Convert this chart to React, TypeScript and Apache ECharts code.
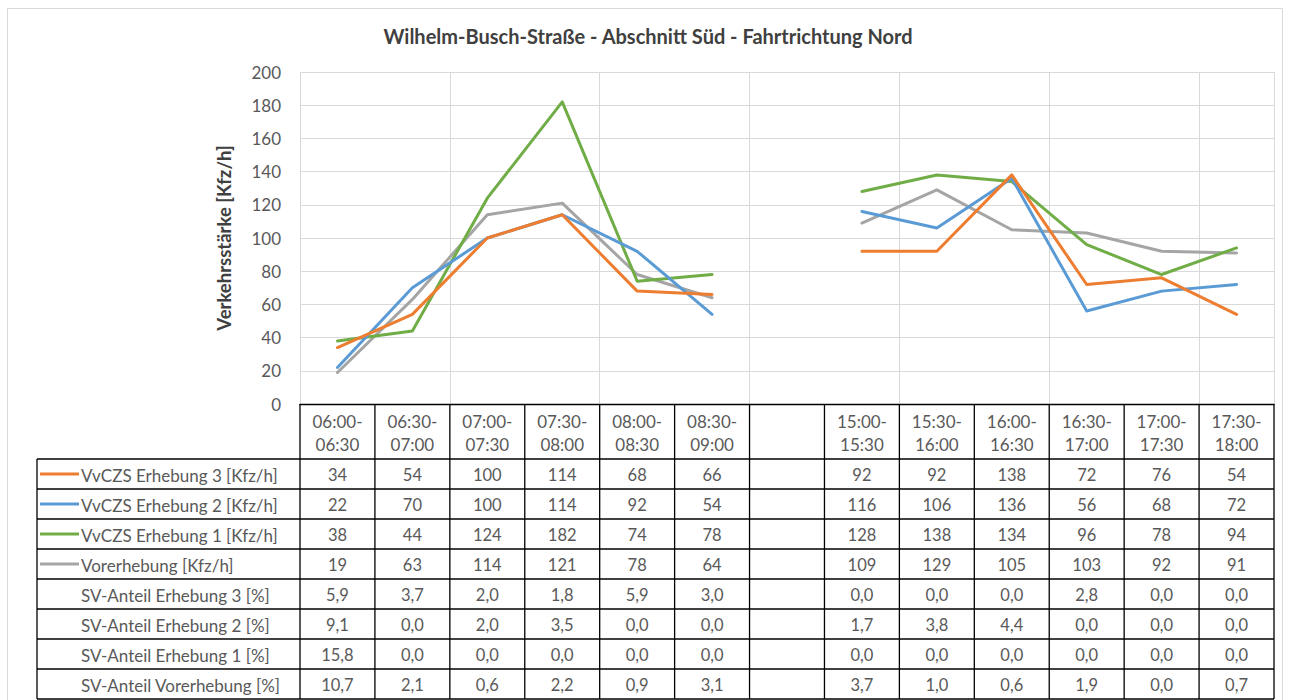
import React, { useEffect, useRef } from "react";
import * as echarts from "echarts";

const title = "Wilhelm-Busch-Straße - Abschnitt Süd - Fahrtrichtung Nord";
const yAxisTitle = "Verkehrsstärke [Kfz/h]";

const categories = [
  "06:00-06:30", "06:30-07:00", "07:00-07:30", "07:30-08:00", "08:00-08:30", "08:30-09:00",
  "",
  "15:00-15:30", "15:30-16:00", "16:00-16:30", "16:30-17:00", "17:00-17:30", "17:30-18:00",
];

const erhebung3 = [34, 54, 100, 114, 68, 66, null, 92, 92, 138, 72, 76, 54];
const erhebung2 = [22, 70, 100, 114, 92, 54, null, 116, 106, 136, 56, 68, 72];
const erhebung1 = [38, 44, 124, 182, 74, 78, null, 128, 138, 134, 96, 78, 94];
const vorerhebung = [19, 63, 114, 121, 78, 64, null, 109, 129, 105, 103, 92, 91];

const svErhebung3 = [5.9, 3.7, 2.0, 1.8, 5.9, 3.0, null, 0.0, 0.0, 0.0, 2.8, 0.0, 0.0];
const svErhebung2 = [9.1, 0.0, 2.0, 3.5, 0.0, 0.0, null, 1.7, 3.8, 4.4, 0.0, 0.0, 0.0];
const svErhebung1 = [15.8, 0.0, 0.0, 0.0, 0.0, 0.0, null, 0.0, 0.0, 0.0, 0.0, 0.0, 0.0];
const svVorerhebung = [10.7, 2.1, 0.6, 2.2, 0.9, 3.1, null, 3.7, 1.0, 0.6, 1.9, 0.0, 0.7];

const yTicks = { min: 0, max: 200, interval: 20 };

const lineRows = [
  { name: "VvCZS Erhebung 3 [Kfz/h]", data: erhebung3, color: "#ED7D31" },
  { name: "VvCZS Erhebung 2 [Kfz/h]", data: erhebung2, color: "#5B9BD5" },
  { name: "VvCZS Erhebung 1 [Kfz/h]", data: erhebung1, color: "#70AD47" },
  { name: "Vorerhebung [Kfz/h]", data: vorerhebung, color: "#A5A5A5" },
];
const pctRows = [
  { name: "SV-Anteil Erhebung 3 [%]", data: svErhebung3 },
  { name: "SV-Anteil Erhebung 2 [%]", data: svErhebung2 },
  { name: "SV-Anteil Erhebung 1 [%]", data: svErhebung1 },
  { name: "SV-Anteil Vorerhebung [%]", data: svVorerhebung },
];

const FONT = "Lato, 'Noto Sans', sans-serif";
const TEXT = "#595959";

export default function App() {
  const ref = useRef<HTMLDivElement>(null);
  useEffect(() => {
    const chart = echarts.init(ref.current!, null, { renderer: "svg" });
    const drawOrder = [3, 2, 1, 0];
    chart.setOption({
      animation: false,
      backgroundColor: "#ffffff",
      title: {
        text: title,
        left: "center",
        top: 21,
        textStyle: { fontFamily: FONT, fontSize: 20, fontWeight: "bold", color: "#404040" },
      },
      grid: { left: 300, right: 22, top: 72, bottom: 296 },
      xAxis: {
        type: "category",
        data: categories,
        boundaryGap: true,
        axisLabel: { show: false },
        axisTick: { show: false },
        axisLine: { show: true, lineStyle: { color: "#000", width: 1.3 } },
        splitLine: { show: true, lineStyle: { color: "#d9d9d9", width: 1 } },
      },
      yAxis: {
        type: "value",
        min: yTicks.min,
        max: yTicks.max,
        interval: yTicks.interval,
        name: yAxisTitle,
        nameLocation: "middle",
        nameRotate: 90,
        nameGap: 67,
        nameTextStyle: { fontFamily: FONT, fontSize: 18.5, fontWeight: "bold", color: "#404040" },
        axisLine: { show: false },
        axisTick: { show: false },
        axisLabel: { fontFamily: FONT, fontSize: 17, color: "#595959", margin: 19 },
        splitLine: { lineStyle: { color: "#d9d9d9", width: 1 } },
      },
      series: drawOrder.map((i) => ({
        type: "line",
        name: lineRows[i].name,
        data: lineRows[i].data,
        connectNulls: false,
        showSymbol: false,
        symbol: "none",
        lineStyle: { color: lineRows[i].color, width: 3, cap: "round", join: "round" },
        itemStyle: { color: lineRows[i].color },
      })),
    });

    const n = categories.length;
    const c0 = chart.convertToPixel({ xAxisIndex: 0 }, 0) as number;
    const c1 = chart.convertToPixel({ xAxisIndex: 0 }, 1) as number;
    const colW = c1 - c0;
    const centers = categories.map((_, i) => chart.convertToPixel({ xAxisIndex: 0 }, i) as number);
    const bounds = Array.from({ length: n + 1 }, (_, i) => c0 - colW / 2 + i * colW);
    const tableTop = chart.convertToPixel({ yAxisIndex: 0 }, yTicks.min) as number;
    const headerH = 55;
    const rowH = 30;
    const tableLeft = 37;
    const right = bounds[n];
    const bodyTop = tableTop + headerH;
    const nRows = lineRows.length + pctRows.length;
    const bodyBottom = bodyTop + nRows * rowH;
    const border = { stroke: "#000", lineWidth: 1.3 };
    const els: any[] = [];

    els.push({
      type: "rect",
      silent: true,
      shape: { x: 7.5, y: 8.5, width: 1275, height: 720 },
      style: { fill: "none", stroke: "#d9d9d9", lineWidth: 1 },
    });

    bounds.forEach((x) => {
      els.push({ type: "line", silent: true, shape: { x1: x, y1: tableTop, x2: x, y2: bodyBottom }, style: border });
    });
    els.push({ type: "line", silent: true, shape: { x1: tableLeft, y1: bodyTop, x2: tableLeft, y2: bodyBottom }, style: border });
    for (let r = 0; r <= nRows; r++) {
      const y = bodyTop + r * rowH;
      els.push({ type: "line", silent: true, shape: { x1: tableLeft, y1: y, x2: right, y2: y }, style: border });
    }
    categories.forEach((c, i) => {
      if (!c) return;
      const [a, b] = c.split("-");
      els.push({
        type: "text",
        silent: true,
        x: centers[i],
        y: tableTop + headerH / 2 + 1,
        style: {
          text: a + "-\n" + b,
          font: `17px ${FONT}`,
          fill: TEXT,
          textAlign: "center",
          textVerticalAlign: "middle",
          lineHeight: 23,
        },
      });
    });
    const fmtPct = (v: number) => v.toFixed(1).replace(".", ",");
    const rows = [
      ...lineRows.map((r) => ({ name: r.name, color: r.color as string | null, cells: r.data.map((v) => (v == null ? "" : String(v))) })),
      ...pctRows.map((r) => ({ name: r.name, color: null as string | null, cells: r.data.map((v) => (v == null ? "" : fmtPct(v))) })),
    ];
    rows.forEach((row, r) => {
      const yMid = bodyTop + r * rowH + rowH / 2;
      if (row.color) {
        els.push({
          type: "line",
          silent: true,
          shape: { x1: tableLeft + 3, y1: yMid, x2: tableLeft + 42, y2: yMid },
          style: { stroke: row.color, lineWidth: 3 },
        });
      }
      els.push({
        type: "text",
        silent: true,
        x: tableLeft + 44,
        y: yMid + 1,
        style: { text: row.name, font: `17px ${FONT}`, fill: TEXT, textAlign: "left", textVerticalAlign: "middle" },
      });
      row.cells.forEach((t, i) => {
        if (!t) return;
        els.push({
          type: "text",
          silent: true,
          x: centers[i],
          y: yMid + 1,
          style: { text: t, font: `16.5px ${FONT}`, fill: TEXT, textAlign: "center", textVerticalAlign: "middle" },
        });
      });
    });

    chart.setOption({ graphic: els });
    return () => chart.dispose();
  }, []);
  return <div ref={ref} style={{ position: "fixed", left: 0, top: 0, width: 1296, height: 700 }} />;
}
